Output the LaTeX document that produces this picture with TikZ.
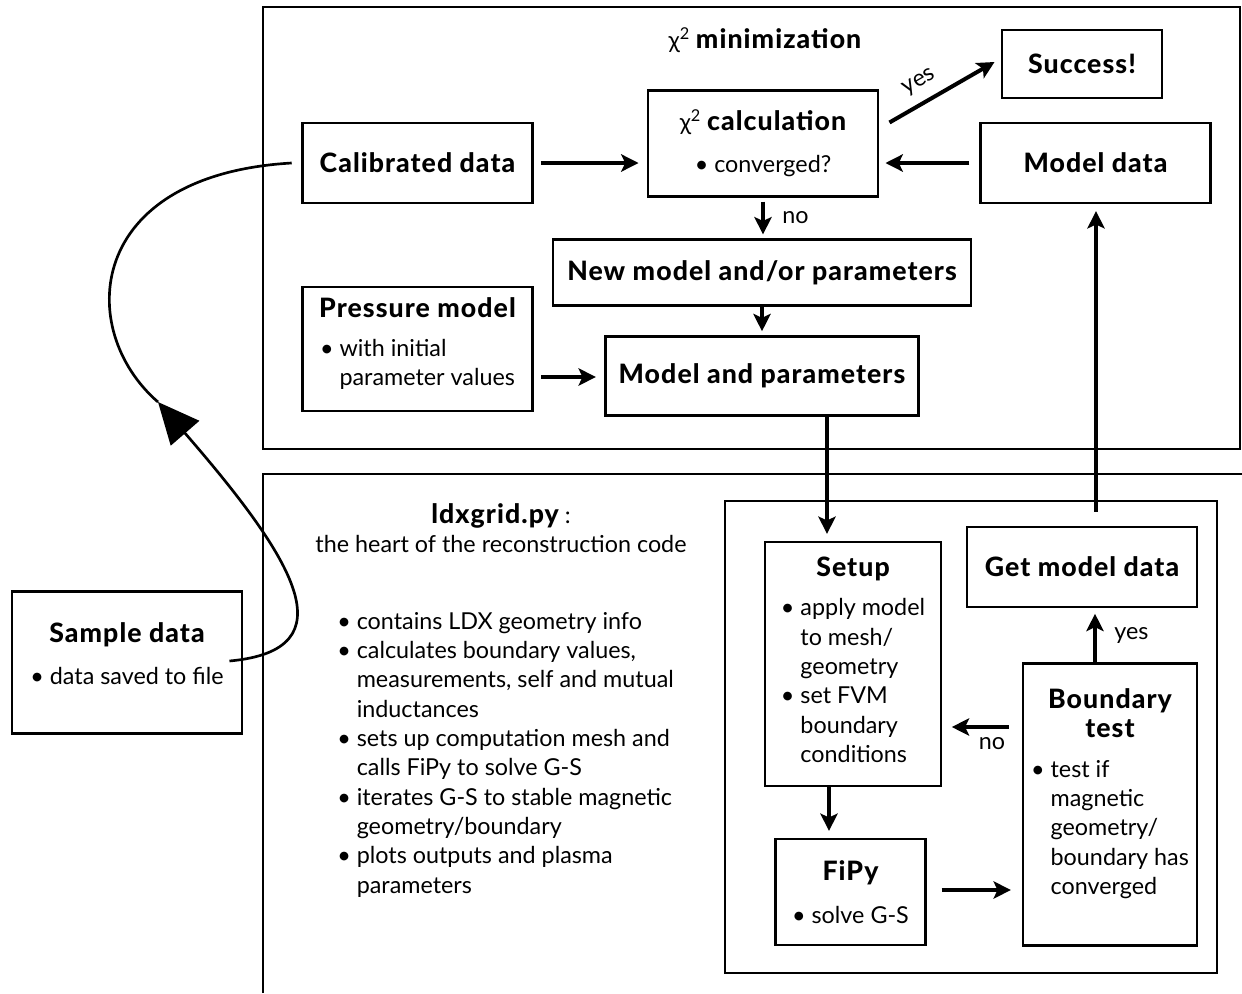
\documentclass[tikz,border=0pt]{standalone}
\usepackage{fontspec}
\setmainfont{Lato}[BoldFont={Lato Heavy},BoldFeatures={LetterSpace=4}]
\usetikzlibrary{arrows.meta,calc}
\newcommand{\txt}{\fontsize{17.5}{22}\selectfont}
\newcommand{\hb}[1]{{\fontsize{20}{22}\selectfont\bfseries #1}}
\newcommand{\ind}{\hphantom{\textbullet\ }}
\newcommand{\bul}{\textbullet\ }
\begin{document}
\begin{tikzpicture}[x=0.75pt,y=-0.75pt,
  box/.style={draw, line width=2.2pt, inner sep=0pt, align=center, font=\txt},
  frame/.style={draw, line width=2.2pt},
  arr/.style={line width=3pt, -{Stealth[length=13pt,width=13pt,inset=3pt]}},
  lbl/.style={font=\txt, inner sep=1pt},
  curve/.style={line width=2pt}]
\useasboundingbox (0,0) rectangle (1242,993);
% outer frames
\draw[frame] (263,7) rectangle (1240,449);
\draw[frame] (263,993) -- (263,474) -- (1242,474);
\draw[frame] (725,501) rectangle (1217,973);
% top part
\node[font=\txt, anchor=base] (title) at (765,48) {χ\textsuperscript{2} \hb{minimization}};
\node[box, minimum width=120pt, minimum height=51pt] (succ) at (1082,64) {\hb{Success!}};
\node[box, minimum width=173pt, minimum height=60pt] (mdata) at (1095.5,163) {\hb{Model data}};
\node[box, minimum width=172.5pt, minimum height=79pt] (chi) at (763,143.5)
  {χ\textsuperscript{2} \hb{calculation}\\[10pt]\bul converged?};
\node[box, minimum width=173pt, minimum height=60pt] (cal) at (417.5,163) {\hb{Calibrated data}};
\node[box, minimum width=313.5pt, minimum height=49pt] (newm) at (762,272.5) {\hb{New model and/or parameters}};
\node[box, minimum width=173pt, minimum height=93pt] (press) at (417.5,349)
  {\hb{Pressure model}\\[12.5pt]\begin{tabular}{@{}l@{}}\bul with initial\\\ind parameter values\end{tabular}\\[0pt]\mbox{}};
\node[box, minimum width=235pt, minimum height=59pt] (mp) at (762,376) {\hb{Model and parameters}};
% bottom part
\node[font=\txt, anchor=north, align=center, inner sep=0pt] (ldx) at (501,503)
  {\hb{ldxgrid.py} :\\the heart of the reconstruction code};
\node[font=\txt, anchor=north west, align=left, inner sep=0pt] (lst) at (337,612)
  {\bul contains LDX geometry info\\
   \bul calculates boundary values,\\
   \ind measurements, self and mutual\\
   \ind inductances\\
   \bul sets up computation mesh and\\
   \ind calls FiPy to solve G-S\\
   \bul iterates G-S to stable magnetic\\
   \ind geometry/boundary\\
   \bul plots outputs and plasma\\
   \ind parameters};
\node[box, minimum width=132pt, minimum height=183pt] (setup) at (853,664)
  {\hb{Setup}\\[10pt]\begin{tabular}{@{}l@{}}\bul apply model\\\ind to mesh/\\\ind geometry\\\bul set FVM\\\ind boundary\\\ind conditions\end{tabular}};
\node[box, minimum width=172.5pt, minimum height=60pt] (getm) at (1082,567) {\hb{Get model data}};
\node[box, minimum width=130.5pt, minimum height=211pt] (bt) at (1110,804.5)
  {\hb{Boundary}\\\hb{test}\\[13pt]\begin{tabular}{@{}l@{}}\bul test if\\\ind magnetic\\\ind geometry/\\\ind boundary has\\\ind converged\end{tabular}\\[12pt]\mbox{}};
\node[box, minimum width=112pt, minimum height=79.5pt] (fipy) at (850.5,892)
  {\hb{FiPy}\\[10pt]\bul solve G-S};
\node[box, minimum width=172.5pt, minimum height=106pt] (sd) at (127,662.5)
  {\hb{Sample data}\\[10pt]\bul data saved to file\\[-8.5pt]\mbox{}};
% helper coordinates for connector ends
\coordinate (a1) at ($(mp.south)+(65,0)$);
\coordinate (a2) at ($(getm.north)+(14,-14)$);
\coordinate (a3) at ($(bt.north)+(-15,0)$);
\coordinate (a4) at ($(setup.south)+(-24,0)$);
\coordinate (a5) at ($(fipy.east)+(15,-2)$);
\coordinate (a6) at ($(bt.west)+(-13,-77.5)$);
\coordinate (a7) at ($(press.east)+(7,28)$);
% arrows
\draw[arr, shorten <=5pt, shorten >=6pt] (cal.east) -- (cal.east -| chi.west);
\draw[arr, shorten <=7pt, shorten >=4.5pt] (mdata.west) -- (mdata.west -| chi.east);
\draw[arr] ($(chi.east)+(10,-21)$) -- node[lbl, pos=0.38, above=6pt, sloped] {yes} ($(succ.west)+(-6,-2)$);
\draw[arr, shorten <=3pt, shorten >=3pt] (chi.south) -- node[lbl, right=12pt] {no} (chi.south |- newm.north);
\draw[arr, shorten >=3pt] (newm.south) -- (newm.south |- mp.north);
\draw[arr, shorten >=6pt] (a7) -- (a7 -| mp.west);
\draw[arr, shorten >=5pt] (a1) -- (a1 |- setup.north);
\draw[arr, shorten >=5pt] (a2) -- (a2 |- mdata.south);
\draw[arr, shorten >=4pt] (a3) -- node[lbl, right=12pt] {yes} (a3 |- getm.south);
\draw[arr, shorten >=7pt] (a6) -- node[lbl, pos=0.25, below=5pt] {no} (a6 -| setup.east);
\draw[arr, shorten >=5pt] (a4) -- (a4 |- fipy.north);
\draw[arr, shorten >=8pt] (a5) -- (a5 -| bt.west);
% curved connector sample data -> calibrated data
\coordinate (cstart) at ($(sd.east)+(-14,-1.5)$);
\coordinate (ctip) at (158,402);
\coordinate (cend) at ($(cal.west)+(-9,0)$);
\draw[curve, -{Triangle[length=31pt,width=28pt]}] (cstart) .. controls (350,650) and (295,560) .. (ctip);
\draw[curve] (ctip) .. controls (75,330) and (85,175) .. (cend);
\end{tikzpicture}
\end{document}
